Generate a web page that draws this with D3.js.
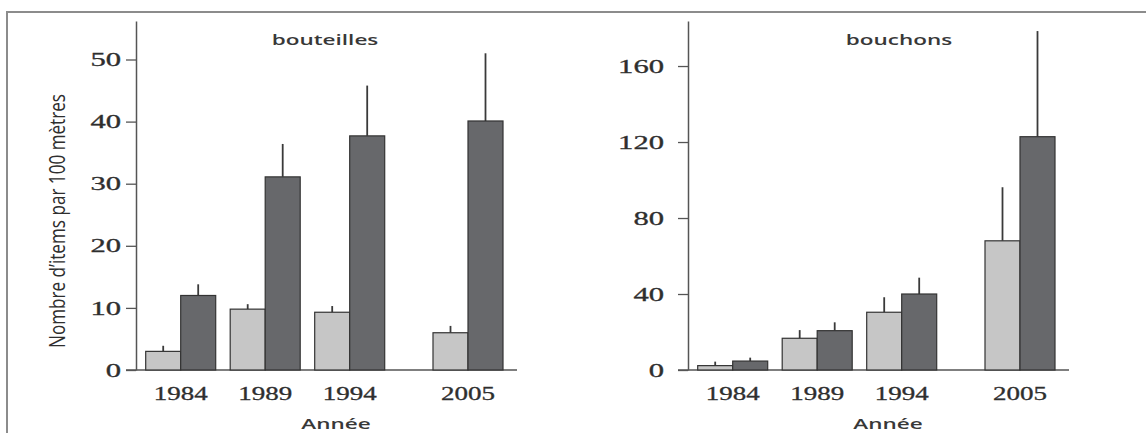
<!DOCTYPE html>
<html>
<head>
<meta charset="utf-8">
<script src="https://cdn.jsdelivr.net/npm/d3@7"></script>
<style>
  body { margin: 0; background: #fff; }
  svg { display: block; }
</style>
</head>
<body>
<svg id="chart" width="1146" height="433"></svg>
<script>
// years on the x axis, and where they sit (2005 is set apart)
var years = ["1984", "1989", "1994", "2005"];
var slots = [0, 1, 2, 3.4];

// bouteilles : light series / dark series, with error (up) values
var bouteillesA    = [3.0, 9.8, 9.3, 6.0];
var bouteillesAErr = [0.9, 0.8, 1.0, 1.1];
var bouteillesB    = [12.0, 31.1, 37.7, 40.1];
var bouteillesBErr = [1.8, 5.3, 8.1, 10.9];

// bouchons
var bouchonsA    = [2.3, 16.7, 30.4, 68.0];
var bouchonsAErr = [2.1, 4.3, 7.9, 28.2];
var bouchonsB    = [4.7, 20.7, 40.0, 122.8];
var bouchonsBErr = [1.8, 4.4, 8.6, 55.6];

var ticksBouteilles = [0, 10, 20, 30, 40, 50];
var ticksBouchons = [0, 40, 80, 120, 160];

var SX = 1.5;   // the scanned figure is stretched sideways
var y0 = 370, yTop = 21;
var barW = 35;
var serif = "'Liberation Serif', 'Times New Roman', serif";
var sans = "'Open Sans', sans-serif";

var svg = d3.select("#chart");

// frame
svg.append("path")
  .attr("d", "M7,433V12H1146")
  .attr("fill", "none")
  .attr("stroke", "#8c8c8c")
  .attr("stroke-width", 2);

// y label
svg.append("text")
  .attr("transform", "translate(57,221) scale(" + SX + ",1) rotate(-90)")
  .attr("text-anchor", "middle")
  .attr("dominant-baseline", "central")
  .attr("textLength", 254)
  .attr("lengthAdjust", "spacingAndGlyphs")
  .style("font-family", sans)
  .style("font-size", "15px")
  .style("fill", "#2e2e2e")
  .text("Nombre d\u2019items par 100 mètres");

var panels = [
  {title: "bouteilles", a: bouteillesA, aErr: bouteillesAErr, b: bouteillesB, bErr: bouteillesBErr,
   ticks: ticksBouteilles, top: 56.2, x0: 136, titleDx: 189, pad: 15},
  {title: "bouchons", a: bouchonsA, aErr: bouchonsAErr, b: bouchonsB, bErr: bouchonsBErr,
   ticks: ticksBouchons, top: 183.7, x0: 688, titleDx: 211, pad: 24}
];

panels.forEach(function (p) {
  var g = svg.append("g").attr("transform", "translate(" + p.x0 + ",0)");

  var y = d3.scaleLinear().domain([0, p.top]).range([y0, yTop]);
  var x = d3.scaleLinear().domain([0, 3.4]).range([44.7, 332]);

  // x axis line
  g.append("line")
    .attr("x1", -10).attr("x2", 381)
    .attr("y1", y0).attr("y2", y0)
    .attr("stroke", "#555").attr("stroke-width", 1.5);

  var ax = g.append("g")
    .call(d3.axisLeft(y).tickValues(p.ticks).tickSize(10).tickSizeOuter(0).tickFormat(d3.format("d")));
  ax.attr("font-family", null).attr("font-size", null);
  ax.select(".domain").attr("stroke", "#555").attr("stroke-width", 1.5);
  ax.selectAll(".tick line").attr("stroke", "#555").attr("stroke-width", 1.3);
  ax.selectAll(".tick text")
    .attr("x", null)
    .attr("dy", "0.34em")
    .attr("transform", "translate(" + (-p.pad) + ",0) scale(1.7,1)")
    .style("font-family", serif)
    .style("font-size", "18px")
    .style("fill", "#2e2e2e")
    .style("stroke", "#2e2e2e")
    .style("stroke-width", 0.3);

  var rows = years.map(function (yr, i) {
    return {year: yr, cx: x(slots[i]), a: p.a[i], aErr: p.aErr[i], b: p.b[i], bErr: p.bErr[i]};
  });

  var grp = g.selectAll(".grp").data(rows).enter().append("g").attr("class", "grp");

  // error lines (drawn first, bars sit on top)
  grp.append("line")
    .attr("x1", function (d) { return d.cx - barW / 2; })
    .attr("x2", function (d) { return d.cx - barW / 2; })
    .attr("y1", function (d) { return y(d.a); })
    .attr("y2", function (d) { return y(d.a + d.aErr); })
    .attr("stroke", "#3a3a3a").attr("stroke-width", 1.8);
  grp.append("line")
    .attr("x1", function (d) { return d.cx + barW / 2; })
    .attr("x2", function (d) { return d.cx + barW / 2; })
    .attr("y1", function (d) { return y(d.b); })
    .attr("y2", function (d) { return y(d.b + d.bErr); })
    .attr("stroke", "#3a3a3a").attr("stroke-width", 1.8);

  grp.append("rect")
    .attr("x", function (d) { return d.cx - barW; })
    .attr("y", function (d) { return y(d.a); })
    .attr("width", barW)
    .attr("height", function (d) { return y0 - y(d.a); })
    .attr("fill", "#c6c6c6")
    .attr("stroke", "#333").attr("stroke-width", 1.2);
  grp.append("rect")
    .attr("x", function (d) { return d.cx; })
    .attr("y", function (d) { return y(d.b); })
    .attr("width", barW)
    .attr("height", function (d) { return y0 - y(d.b); })
    .attr("fill", "#67686b")
    .attr("stroke", "#333").attr("stroke-width", 1.2);

  // year labels
  grp.append("text")
    .attr("transform", function (d) { return "translate(" + d.cx + ",400) scale(" + SX + ",1)"; })
    .attr("text-anchor", "middle")
    .style("font-family", serif)
    .style("font-size", "18px")
    .style("fill", "#2e2e2e")
    .style("stroke", "#2e2e2e")
    .style("stroke-width", 0.3)
    .text(function (d) { return d.year; });

  // title
  g.append("text")
    .attr("transform", "translate(" + p.titleDx + ",45) scale(" + SX + ",1)")
    .attr("text-anchor", "middle")
    .style("font-family", sans)
    .style("font-weight", 600)
    .style("font-size", "15px")
    .style("fill", "#383838")
    .text(p.title);

  g.append("text")
    .attr("transform", "translate(200,429) scale(" + SX + ",1)")
    .attr("text-anchor", "middle")
    .style("font-family", sans)
    .style("font-weight", 600)
    .style("font-size", "15px")
    .style("fill", "#383838")
    .text("Année");
});
</script>
</body>
</html>
